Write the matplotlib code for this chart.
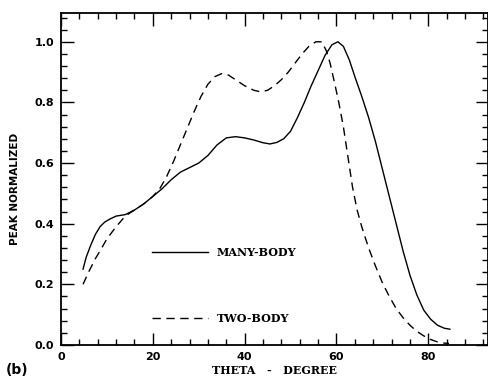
import numpy as np
import matplotlib
matplotlib.use("Agg")
import matplotlib.pyplot as plt
from matplotlib.ticker import MultipleLocator, FormatStrFormatter

# many-body curve (theta in degrees, peak-normalized value)
many_theta = [4.8, 5.5, 6.5, 7.5, 8.5, 9.5, 10.6, 12, 14, 16, 18, 20, 22, 24, 26,
              28, 30, 32, 34, 36, 38, 40, 42, 44, 45.5, 47, 48.5, 50, 51.5, 53,
              54.5, 56, 57.5, 59, 60.3, 61.5, 62.8, 64, 65.5, 67, 68.5, 70, 71.5,
              73, 74.5, 76, 77.5, 79, 80.5, 82, 83.5, 84.7]
many_val = [0.25, 0.29, 0.33, 0.365, 0.39, 0.405, 0.415, 0.425, 0.43, 0.445, 0.465,
            0.49, 0.515, 0.545, 0.57, 0.585, 0.60, 0.625, 0.66, 0.683, 0.687, 0.683,
            0.676, 0.667, 0.663, 0.668, 0.68, 0.705, 0.75, 0.80, 0.855, 0.905, 0.955,
            0.99, 1.0, 0.985, 0.94, 0.885, 0.82, 0.75, 0.67, 0.58, 0.49, 0.40, 0.31,
            0.23, 0.165, 0.115, 0.085, 0.065, 0.055, 0.052]

# two-body curve
two_theta = [4.8, 6, 7.5, 8.5, 10, 12, 14, 16, 18, 20, 21.5, 23, 24.5, 26, 27.5, 29,
             30.5, 32, 33.5, 35, 36.5, 38, 40, 42, 43.5, 45, 46.5, 48, 49.5, 51, 52.5,
             54, 55.5, 56.8, 57.8, 58.6, 59.5, 60.5, 61.5, 62.5, 63.5, 64.5, 65.5, 67,
             68.5, 70, 71.5, 73, 74.5, 76, 77.5, 79, 80.5, 82, 83.5, 84.5]
two_val = [0.20, 0.24, 0.285, 0.31, 0.35, 0.39, 0.425, 0.445, 0.465, 0.49, 0.515,
           0.555, 0.605, 0.66, 0.715, 0.77, 0.82, 0.86, 0.885, 0.895, 0.89, 0.875,
           0.855, 0.84, 0.835, 0.84, 0.855, 0.875, 0.9, 0.93, 0.96, 0.985, 1.0, 1.0,
           0.97, 0.93, 0.87, 0.8, 0.72, 0.62, 0.52, 0.445, 0.39, 0.32, 0.26, 0.205,
           0.16, 0.12, 0.09, 0.065, 0.045, 0.03, 0.018, 0.01, 0.006, 0.005]

labels = ["MANY-BODY", "TWO-BODY"]

fig = plt.figure(figsize=(4.88, 3.82), dpi=100)
ax = fig.add_axes([0.125, 0.097, 0.875, 0.869])

ax.plot(many_theta, many_val, color="black", lw=1.0, label=labels[0])
ax.plot(two_theta, two_val, color="black", lw=1.0, dashes=(6, 4), label=labels[1])

ax.set_xlim(0, 93)
ax.set_ylim(0, 1.095)

ax.xaxis.set_major_locator(MultipleLocator(20))
ax.xaxis.set_minor_locator(MultipleLocator(4))
ax.yaxis.set_major_locator(MultipleLocator(0.2))
ax.yaxis.set_minor_locator(MultipleLocator(0.04))
ax.yaxis.set_major_formatter(FormatStrFormatter("%.1f"))

ax.tick_params(which="both", direction="in", top=True, right=True, width=1.0)
ax.tick_params(which="major", length=9, labelsize=8, pad=5)
ax.tick_params(which="minor", length=4)
for lab in ax.get_xticklabels() + ax.get_yticklabels():
    lab.set_fontweight("bold")
for sp in ax.spines.values():
    sp.set_linewidth(1.3)

serif = {"family": "DejaVu Serif", "weight": "bold", "size": 8}
ax.set_xlabel("THETA   -   DEGREE", fontdict=serif, labelpad=2)
ax.set_ylabel("PEAK NORMALIZED", family="DejaVu Sans", weight="bold", size=7.5,
              labelpad=5)
ax.yaxis.set_label_coords(-0.095, 0.47)

leg = ax.legend(loc="center left", bbox_to_anchor=(0.213, 0.179), frameon=False,
                borderaxespad=0, borderpad=0,
                handlelength=5.0, handletextpad=0.8, labelspacing=4.9,
                prop={"family": "DejaVu Serif", "weight": "bold", "size": 8})

fig.text(0.012, 0.022, "(b)", fontsize=10, fontweight="bold")

fig.savefig("out.png", dpi=100)
